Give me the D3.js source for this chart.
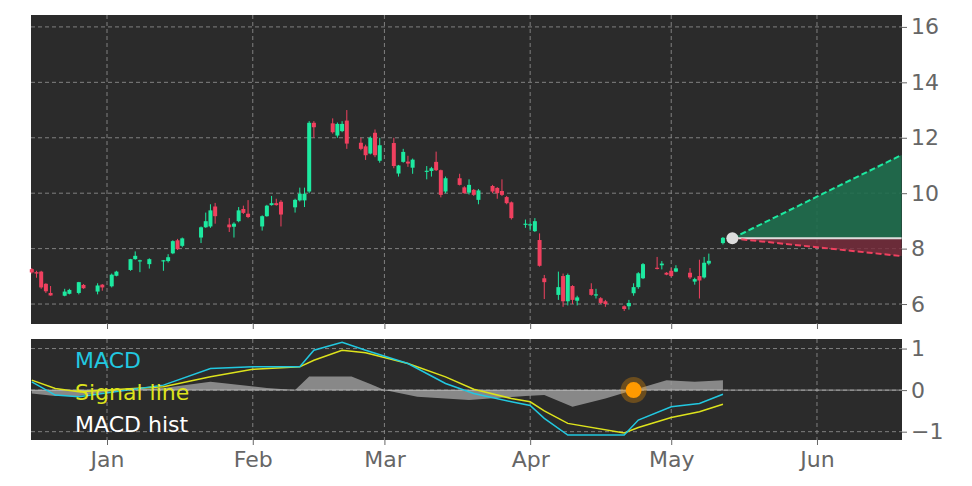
<!DOCTYPE html>
<html><head><meta charset="utf-8">
<script src="https://cdn.jsdelivr.net/npm/d3@7"></script>
<style>body{margin:0;background:#fff}svg{font-family:"DejaVu Sans",sans-serif}</style>
</head><body><svg id="c" width="972" height="486"></svg>
<script>
// Candles: date, open, high, low, close
const candleDates=["2024-12-16","2024-12-17","2024-12-18","2024-12-19","2024-12-20","2024-12-23","2024-12-24","2024-12-26","2024-12-27","2024-12-30","2024-12-31",
"2025-01-02","2025-01-03","2025-01-06","2025-01-07","2025-01-08","2025-01-10","2025-01-13","2025-01-14","2025-01-15","2025-01-16","2025-01-17",
"2025-01-21","2025-01-22","2025-01-23","2025-01-24","2025-01-27","2025-01-28","2025-01-29","2025-01-30","2025-01-31",
"2025-02-03","2025-02-04","2025-02-05","2025-02-06","2025-02-07","2025-02-10","2025-02-11","2025-02-12","2025-02-13","2025-02-14",
"2025-02-18","2025-02-19","2025-02-20","2025-02-21","2025-02-24","2025-02-25","2025-02-26","2025-02-27","2025-02-28",
"2025-03-03","2025-03-04","2025-03-05","2025-03-06","2025-03-07","2025-03-10","2025-03-11","2025-03-12","2025-03-13","2025-03-14",
"2025-03-17","2025-03-18","2025-03-19","2025-03-20","2025-03-21","2025-03-24","2025-03-25","2025-03-26","2025-03-27","2025-03-28",
"2025-03-31","2025-04-01","2025-04-02","2025-04-03","2025-04-04","2025-04-07","2025-04-08","2025-04-09","2025-04-10","2025-04-11",
"2025-04-14","2025-04-15","2025-04-16","2025-04-17","2025-04-21","2025-04-22","2025-04-23","2025-04-24","2025-04-25",
"2025-04-28","2025-04-29","2025-04-30","2025-05-01","2025-05-02","2025-05-05","2025-05-06","2025-05-07","2025-05-08","2025-05-09","2025-05-12"];
const opens=[7.26,7.15,7.17,6.73,6.40,6.30,6.37,6.40,6.69,6.45,6.70,
6.64,7.02,7.23,7.62,7.57,7.44,7.57,7.55,7.83,8.30,8.10,
8.40,8.77,8.80,9.52,8.87,8.79,8.99,9.43,9.26,
8.80,9.17,9.57,9.64,9.69,9.49,9.74,9.74,10.06,12.54,
12.52,12.08,12.24,12.62,11.82,11.69,11.43,12.18,11.17,
11.81,10.71,11.13,11.14,10.92,10.79,10.80,11.13,10.83,10.06,
10.54,10.21,10.02,10.12,9.76,10.26,10.19,10.08,9.86,9.67,
8.89,8.87,8.63,8.31,6.93,6.33,7.01,6.10,6.65,6.12,
6.54,6.34,6.21,6.10,5.92,5.92,6.39,6.61,6.93,
7.31,7.40,7.13,7.20,7.17,7.13,6.81,7.01,6.96,7.46,8.20];
const highs=[7.30,7.20,7.20,6.75,6.65,6.55,6.55,6.80,6.72,6.75,6.72,
7.10,7.20,7.63,7.90,7.60,7.65,7.59,7.80,8.30,8.35,8.40,
8.80,9.30,9.60,9.65,9.10,8.95,9.50,9.55,9.75,
9.20,9.58,9.90,9.80,9.75,9.80,10.20,10.20,12.60,12.60,
12.70,12.55,12.60,13.00,12.00,11.75,12.05,12.30,12.00,
12.00,11.02,11.60,11.35,11.25,10.98,10.95,11.50,10.85,10.60,
10.70,10.25,10.50,10.15,10.15,10.30,10.22,10.50,9.90,9.70,
9.05,8.95,9.10,8.55,7.05,7.17,7.10,7.10,6.68,6.30,
6.75,6.55,6.25,6.15,5.95,6.15,6.75,7.15,7.48,
7.70,7.55,7.15,7.30,7.40,7.30,6.95,7.60,7.70,7.82,8.42];
const lows=[7.10,6.95,6.55,6.40,6.30,6.28,6.35,6.35,6.55,6.35,6.48,
6.60,7.00,7.20,7.60,7.15,7.28,7.20,7.50,7.80,7.95,8.05,
8.20,8.75,8.75,8.90,8.60,8.40,8.95,9.25,9.10,
8.65,9.15,9.55,9.55,8.80,9.30,9.70,9.50,10.00,12.00,
12.15,12.00,12.20,11.60,11.55,11.20,11.40,11.30,11.10,
10.90,10.60,11.10,10.95,10.70,10.50,10.60,10.80,9.85,10.00,
10.28,9.98,9.95,9.90,9.60,10.00,9.80,9.90,9.60,9.05,
8.75,8.65,8.60,7.35,6.18,6.15,5.90,5.95,6.00,5.95,
6.30,6.20,6.00,5.90,5.75,5.80,6.30,6.55,6.90,
7.25,7.25,7.04,6.98,7.15,6.90,6.70,6.20,6.92,7.40,8.15];
const closes=[7.14,7.10,6.60,6.46,6.31,6.45,6.51,6.79,6.57,6.67,6.60,
7.06,7.17,7.62,7.74,7.58,7.62,7.58,7.69,8.27,7.98,8.37,
8.77,8.99,9.38,9.17,8.77,8.90,9.38,9.29,9.14,
9.17,9.55,9.64,9.57,9.23,9.76,9.98,9.98,12.54,12.38,
12.20,12.50,12.50,11.79,11.60,11.37,12.00,11.37,11.73,
10.98,11.00,11.49,11.07,11.21,10.81,10.90,10.83,9.94,10.54,
10.30,10.00,10.30,9.94,10.10,10.06,10.00,9.94,9.64,9.10,
8.90,8.88,8.99,7.38,6.79,6.61,6.10,7.05,6.15,6.24,
6.33,6.35,6.04,6.00,5.82,6.04,6.61,7.11,7.44,
7.29,7.46,7.06,7.01,7.29,6.96,6.90,6.85,7.49,7.56,8.39];
// Forecast
const fcDates=["2025-05-14","2025-06-19"];
const fcUpper=[8.37,11.38], fcMid=[8.37,8.37], fcLower=[8.37,7.73];
// MACD panel
const macdDates=["2024-12-16","2024-12-21","2024-12-26","2025-01-13","2025-01-23","2025-02-01","2025-02-11","2025-02-14","2025-02-20","2025-02-25","2025-03-06","2025-03-14","2025-03-20","2025-03-28","2025-04-01","2025-04-04","2025-04-09","2025-04-21","2025-04-24","2025-05-01","2025-05-07","2025-05-12"];
const macdVals=[0.20,-0.12,-0.16,0.12,0.52,0.56,0.56,0.96,1.15,0.96,0.64,0.16,-0.08,-0.28,-0.37,-0.68,-1.08,-1.08,-0.72,-0.40,-0.32,-0.10];
const signalVals=[0.24,0.04,-0.04,0.08,0.32,0.50,0.56,0.72,0.96,0.90,0.64,0.32,0.02,-0.20,-0.28,-0.50,-0.80,-1.03,-0.90,-0.66,-0.52,-0.34];
const histDates=["2024-12-16","2024-12-21","2024-12-26","2025-01-04","2025-01-13","2025-01-23","2025-02-04","2025-02-10","2025-02-13","2025-02-22","2025-02-26","2025-03-01","2025-03-08","2025-03-19","2025-03-31","2025-04-04","2025-04-10","2025-04-17","2025-04-23","2025-04-30","2025-05-06","2025-05-12"];
const histVals=[-0.08,-0.14,-0.14,0.0,0.05,0.20,0.05,0.0,0.33,0.33,0.15,0.0,-0.16,-0.24,-0.14,-0.12,-0.40,-0.20,0.0,0.24,0.20,0.24];
const crossDate="2025-04-23", crossVal=0;
const priceTicks=[6,8,10,12,14,16], macdTicks=[1,0,-1];
const monthTicks=["2025-01-01","2025-02-01","2025-03-01","2025-04-01","2025-05-01","2025-06-01"];
const monthLabels=["Jan","Feb","Mar","Apr","May","Jun"];

const P=d3.timeParse("%Y-%m-%d");
const svg=d3.select("#c");
const L=31,R=902,T1=15,B1=324,T2=339,B2=440;
const x=d3.scaleTime().domain([new Date(2024,11,15,20),new Date(2025,5,19,2)]).range([L,R]);
const y=d3.scaleLinear().domain([5.28,16.43]).range([B1,T1]);
const y2=d3.scaleLinear().domain([-1.2,1.23]).range([B2,T2]);
const bg="#2b2b2b",grid="#8a8a8a",up="#1de9a0",dn="#f0405f",txt="#666";
function panel(t,b,yy,ticks){
  svg.append("rect").attr("x",L).attr("y",t).attr("width",R-L).attr("height",b-t).attr("fill",bg);
  const g=svg.append("g");
  ticks.forEach(v=>g.append("line").attr("x1",L).attr("x2",R).attr("y1",yy(v)).attr("y2",yy(v)).attr("stroke",grid).attr("stroke-dasharray","4,3").attr("stroke-width",0.9));
  monthTicks.forEach(m=>g.append("line").attr("x1",x(P(m))).attr("x2",x(P(m))).attr("y1",t).attr("y2",b).attr("stroke",grid).attr("stroke-dasharray","4,3").attr("stroke-width",0.9));
  const ax=svg.append("g").attr("transform",`translate(${R},0)`).call(d3.axisRight(yy).tickValues(ticks).tickSize(5).tickPadding(4).tickFormat(v=>v<0?"\u2212"+Math.abs(v):v));
  ax.select(".domain").remove();
  ax.selectAll("text").attr("font-size",22).attr("fill",txt).attr("font-family","DejaVu Sans");
  ax.selectAll("line").attr("stroke",txt);
}
panel(T1,B1,y,priceTicks);
panel(T2,B2,y2,macdTicks);
[B1,B2].forEach(b=>{
  const a=svg.append("g").attr("transform",`translate(0,${b})`).call(d3.axisBottom(x).tickValues(monthTicks.map(P)).tickSize(5).tickFormat((d,i)=>b===B2?monthLabels[i]:""));
  a.select(".domain").remove();a.selectAll("line").attr("stroke",txt);
  a.selectAll("text").attr("font-size",22).attr("fill",txt).attr("dy","0.85em").attr("font-family","DejaVu Sans");
});
// forecast
const fd=fcDates.map(P);
const area=(a,b)=>d3.area().x((d,i)=>x(fd[i])).y0((d,i)=>y(a[i])).y1((d,i)=>y(b[i]));
svg.append("path").datum(fd).attr("d",area(fcMid,fcUpper)).attr("fill","#1f6e4e").attr("opacity",0.9);
svg.append("path").datum(fd).attr("d",area(fcLower,fcMid)).attr("fill","#7a2c3c").attr("opacity",0.8);
const ln=v=>d3.line().x((d,i)=>x(fd[i])).y((d,i)=>y(v[i]));
svg.append("path").datum(fd).attr("d",ln(fcMid)).attr("stroke","#dddddd").attr("stroke-width",2).attr("fill","none");
svg.append("path").datum(fd).attr("d",ln(fcUpper)).attr("stroke",up).attr("stroke-width",2).attr("stroke-dasharray","6,3").attr("fill","none");
svg.append("path").datum(fd).attr("d",ln(fcLower)).attr("stroke",dn).attr("stroke-width",2).attr("stroke-dasharray","6,3").attr("fill","none");
// candles
const cg=svg.append("g");
candleDates.forEach((ds,i)=>{
  const cx=x(P(ds)),o=opens[i],c=closes[i],col=c>=o?up:dn;
  cg.append("line").attr("x1",cx).attr("x2",cx).attr("y1",y(highs[i])).attr("y2",y(lows[i])).attr("stroke",col).attr("stroke-width",1);
  const top=y(Math.max(o,c)),h=Math.max(1.2,Math.abs(y(o)-y(c)));
  cg.append("rect").attr("x",cx-2).attr("y",top).attr("width",4).attr("height",h).attr("fill",col);
});
svg.append("circle").attr("cx",x(fd[0])).attr("cy",y(fcMid[0])).attr("r",6).attr("fill","#dddddd");
// MACD
const hd=histDates.map(P);
svg.append("path").datum(hd).attr("d",d3.area().x(d=>x(d)).y0(y2(0)).y1((d,i)=>y2(histVals[i]))).attr("fill","#999").attr("opacity",0.85);
svg.append("line").attr("x1",L).attr("x2",R).attr("y1",y2(0)).attr("y2",y2(0)).attr("stroke","#ddd").attr("stroke-width",1).attr("opacity",0.6);
const md=macdDates.map(P);
svg.append("path").datum(md).attr("d",d3.line().x(d=>x(d)).y((d,i)=>y2(signalVals[i]))).attr("stroke","#dde31c").attr("stroke-width",1.5).attr("fill","none");
svg.append("path").datum(md).attr("d",d3.line().x(d=>x(d)).y((d,i)=>y2(macdVals[i]))).attr("stroke","#22c8e0").attr("stroke-width",1.5).attr("fill","none");
svg.append("circle").attr("cx",x(P(crossDate))).attr("cy",y2(crossVal)).attr("r",13).attr("fill","#ff9a00").attr("opacity",0.3);
svg.append("circle").attr("cx",x(P(crossDate))).attr("cy",y2(crossVal)).attr("r",8).attr("fill","#ff9a00");
[["MACD","#22c8e0",368],["Signal line","#dde31c",400],["MACD hist","#ffffff",432]].forEach(([t,c,yy])=>
  svg.append("text").attr("x",75).attr("y",yy).attr("fill",c).attr("font-size",22).text(t));
</script></body></html>
